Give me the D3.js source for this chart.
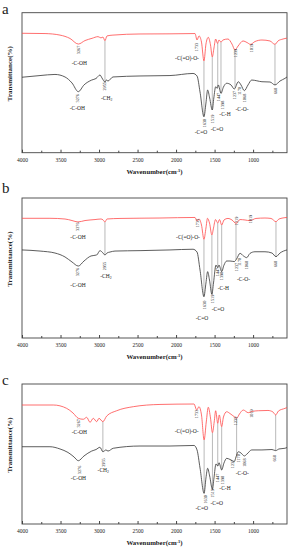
<!DOCTYPE html>
<html>
<head>
<meta charset="utf-8">
<script src="https://cdn.jsdelivr.net/npm/d3@7"></script>
<style>
body { margin: 0; background: #fff; }
svg { display: block; }
text { font-family: "Liberation Serif", "Times New Roman", serif; fill: #222; }
</style>
</head>
<body>
<svg id="chart" width="290" height="550"></svg>
<script>
(function () {
'use strict';

var panelNames = ['a', 'b', 'c'];
var xTicks = [4000, 3500, 3000, 2500, 2000, 1500, 1000];
var xMinorTicks = [3750, 3250, 2750, 2250, 1750, 1250, 750];

// [wavenumber, transmittance]
var redA = [[4000,85.3],[3701,85.1],[3507,84.0],[3377,81.6],[3269,77.6],[3182,80.1],[3091,81.7],[3013,82.9],[2975,82.0],[2949,82.6],[2923,80.0],[2897,83.4],[2819,84.0],[2468,84.8],[2079,84.9],[1754,85.1],[1728,80.5],[1702,83.4],[1670,79.0],[1638,65.5],[1612,77.6],[1582,82.4],[1553,77.0],[1530,68.4],[1508,74.8],[1486,81.2],[1462,78.1],[1443,80.5],[1417,79.0],[1391,80.5],[1326,81.2],[1274,77.6],[1235,73.4],[1195,76.2],[1131,79.8],[1079,78.7],[1034,77.4],[976,79.4],[885,80.5],[781,79.8],[716,77.4],[677,79.8],[612,81.2],[560,81.9]];
var blackA = [[4000,53.9],[3766,55.1],[3572,55.9],[3442,54.1],[3351,49.8],[3269,43.6],[3195,48.4],[3095,51.9],[3039,53.0],[2988,55.5],[2962,53.4],[2923,50.5],[2905,51.9],[2884,51.2],[2819,54.1],[2468,54.8],[2079,55.1],[1780,56.6],[1728,54.8],[1689,43.4],[1638,25.7],[1612,35.5],[1590,44.8],[1564,39.1],[1530,30.5],[1510,39.1],[1486,47.1],[1465,46.0],[1452,48.4],[1417,42.4],[1385,46.9],[1343,49.6],[1287,48.4],[1244,45.5],[1192,50.7],[1157,48.4],[1114,44.3],[1066,48.4],[1018,51.9],[885,50.7],[781,50.5],[716,48.4],[651,51.2],[586,53.1],[560,54.1]];

var redB = [[4000,85.5],[3637,85.5],[3442,85.0],[3351,83.9],[3273,82.9],[3182,83.9],[3052,84.6],[2975,85.0],[2949,84.4],[2923,82.9],[2897,85.0],[2728,85.4],[2209,85.7],[1754,86.1],[1728,83.6],[1702,85.0],[1670,80.7],[1638,70.5],[1612,78.6],[1592,85.5],[1566,82.1],[1535,73.6],[1514,78.6],[1488,84.6],[1459,82.1],[1436,84.6],[1408,80.7],[1378,84.3],[1326,85.4],[1274,84.3],[1222,81.9],[1170,84.6],[1105,84.3],[1041,83.8],[963,85.4],[846,85.7],[768,85.4],[703,83.1],[664,85.0],[560,86.1]];
var blackB = [[4000,62.9],[3766,62.1],[3572,60.7],[3442,57.9],[3351,54.3],[3269,51.4],[3195,55.0],[3104,58.6],[3030,59.3],[2988,62.4],[2955,61.1],[2923,59.3],[2897,60.7],[2858,61.4],[2793,62.1],[2468,62.4],[2079,62.9],[1780,63.4],[1728,61.4],[1689,48.6],[1638,29.5],[1612,39.3],[1590,47.4],[1566,41.4],[1535,31.2],[1514,39.3],[1482,52.1],[1459,50.2],[1443,52.1],[1408,47.4],[1378,52.1],[1343,55.0],[1300,55.0],[1244,54.6],[1214,56.5],[1170,60.5],[1125,58.6],[1083,57.4],[1041,60.4],[976,61.6],[846,61.6],[755,60.7],[703,58.1],[651,60.7],[560,62.9]];

var redC = [[4000,85.0],[3594,85.0],[3420,82.6],[3338,79.3],[3269,75.5],[3204,74.8],[3160,76.2],[3117,72.6],[3075,75.5],[3030,73.1],[3001,75.5],[2950,73.1],[2901,77.1],[2771,80.9],[2555,83.8],[2209,85.4],[1767,85.7],[1732,81.4],[1703,83.8],[1670,77.9],[1636,60.0],[1608,72.9],[1582,83.4],[1553,75.7],[1528,65.2],[1505,72.9],[1486,80.9],[1459,71.9],[1439,77.9],[1408,69.5],[1385,76.4],[1343,80.2],[1300,78.9],[1244,76.6],[1214,75.5],[1177,78.6],[1127,81.4],[1063,79.5],[1015,80.4],[933,80.9],[807,81.1],[742,80.0],[707,77.9],[671,80.7],[586,82.6],[560,83.2]];
var blackC = [[4000,55.2],[3766,55.2],[3637,55.2],[3507,53.6],[3403,51.1],[3325,47.9],[3269,45.2],[3195,48.6],[3095,52.1],[3039,53.2],[2988,54.8],[2950,51.6],[2910,52.9],[2884,52.1],[2815,54.1],[2468,55.7],[2079,55.7],[1767,56.1],[1728,52.9],[1689,40.0],[1636,21.9],[1612,32.9],[1590,39.8],[1564,34.3],[1528,24.8],[1508,32.9],[1482,42.9],[1459,41.4],[1443,43.8],[1408,38.6],[1378,43.6],[1343,46.9],[1300,46.1],[1244,44.5],[1222,47.9],[1192,51.6],[1157,50.7],[1114,48.6],[1079,50.0],[1018,52.9],[885,52.9],[755,53.2],[707,52.4],[664,53.6],[586,54.1],[560,54.6]];

// guide lines joining the two spectra (wavenumbers)
var guidesA = [2923, 1638, 1530, 1459, 1417, 1235, 716];
var guidesB = [2923, 1638, 1535, 1459, 1408, 1222, 703];
var guidesC = [2950, 1636, 1528, 1459, 1408, 1214, 707];

// [wavenumber, transmittance, text, rotated]
var labelsA = [[3273,73.4,'3267',1],[3256,64.3,'-C-OH',0],[2923,47.4,'2955',1],[2901,38.8,'-CH2',0],[3282,38.9,'3276',1],[3282,31.7,'-C-OH',0],[1729,75.5,'1733',1],[1858,68,'-C(=O)-O-',0],[1235,71.2,'1239',1],[1015,74.8,'1019',1],[1625,21.2,'1630',1],[1677,14.8,'-C=O',0],[1527,24.1,'1519',1],[1469,16.9,'-C=O',0],[1443,39.8,'1447',1],[1398,34.1,'1398',1],[1365,28,'-C-H',0],[1242,41.2,'1237',1],[1183,44.1,'1170',1],[1118,39.1,'1068',1],[1144,30.9,'-C-O-',0],[710,44.1,'668',1]];
var labelsB = [[3282,79.5,'3276',1],[3273,72.4,'-C-OH',0],[1716,82.1,'1733',1],[1845,71.9,'-C(=O)-O-',0],[1216,83.6,'1219',1],[1028,85,'1019',1],[3282,47.1,'3276',1],[2923,51.4,'2955',1],[2910,44.3,'-CH2',0],[3273,37.9,'-C-OH',0],[1634,23.6,'1630',1],[1664,14.5,'-C=O',0],[1527,27.9,'1519',1],[1456,20.5,'-C=O',0],[1462,47.1,'1447',1],[1410,44.3,'1398',1],[1385,35.4,'-C-H',0],[1216,50.7,'1237',1],[1177,54.3,'1170',1],[1092,52.1,'1068',1],[1125,42.1,'-C-O-',0],[703,52.9,'668',1]];
var labelsC = [[3269,71.9,'3267',1],[3256,65.9,'-C-OH',0],[1741,78.6,'1733',1],[1862,66.6,'-C(=O)-O-',0],[1229,73.6,'1239',1],[1015,78.9,'1019',1],[3256,38.6,'3276',1],[3267,32.6,'-C-OH',0],[2945,43.9,'2955',1],[2945,38.6,'-CH2',0],[1616,17.6,'1630',1],[1667,11.2,'-C=O',0],[1530,21.9,'1519',1],[1473,14.8,'-C=O',0],[1465,32.9,'1447',1],[1395,31.4,'1398',1],[1365,25.5,'-C-H',0],[1265,42.9,'1237',1],[1192,46.9,'1170',1],[1114,43.8,'1068',1],[1140,36.2,'-C-O-',0],[716,46.9,'668',1]];

var panels = [
    {name: panelNames[0], red: redA, black: blackA, guides: guidesA, labels: labelsA},
    {name: panelNames[1], red: redB, black: blackB, guides: guidesB, labels: labelsB},
    {name: panelNames[2], red: redC, black: blackC, guides: guidesC, labels: labelsC}
];

var LEFT = 22;
var RIGHT = 287;
var PANEL_H = 140;
var PANEL_TOPS = [12.7, 198, 384];
var LETTER_Y = [13.5, 193, 385];

var RED = '#ff4a4a';
var BLACK = '#333';
var GUIDE = '#8a8a8a';

var svg = d3.select('#chart');
var x = d3.scaleLinear().domain([4000, 560]).range([LEFT, RIGHT]);

var valueAt = function(series, wn) {
    for (var i = 0; i < series.length - 1; i++) {
        var a = series[i], b = series[i + 1];
        if (wn <= a[0] && wn >= b[0]) {
            return a[1] + (b[1] - a[1]) * (a[0] - wn) / (a[0] - b[0]);
        }
    }
    return series[series.length - 1][1];
};

var drawPanel = function(p, idx) {
    var top = PANEL_TOPS[idx];
    var bottom = top + PANEL_H;
    var y = d3.scaleLinear().domain([0, 100]).range([bottom, top]);
    var g = svg.append('g');

    g.append('text')
        .attr('x', 2)
        .attr('y', LETTER_Y[idx])
        .style('font-size', '15px')
        .text(p.name);

    g.append('rect')
        .attr('x', LEFT)
        .attr('y', top)
        .attr('width', RIGHT - LEFT)
        .attr('height', PANEL_H)
        .attr('fill', 'none')
        .attr('stroke', '#444')
        .attr('stroke-width', 0.9);

    var axis = g.append('g')
        .attr('transform', 'translate(0,' + bottom + ')')
        .call(d3.axisBottom(x).tickValues(xTicks).tickSize(-3).tickPadding(5).tickFormat(d3.format('d')));
    axis.select('.domain').remove();
    axis.selectAll('line').attr('stroke', '#444');
    axis.selectAll('text')
        .style('font-family', '"Liberation Serif", serif')
        .style('font-size', '5.5px')
        .attr('fill', '#222');

    var minor = g.append('g')
        .attr('transform', 'translate(0,' + bottom + ')')
        .call(d3.axisBottom(x).tickValues(xMinorTicks).tickSize(-2).tickFormat(''));
    minor.select('.domain').remove();
    minor.selectAll('line').attr('stroke', '#444');

    var title = g.append('text')
        .attr('x', (LEFT + RIGHT) / 2)
        .attr('y', bottom + 21)
        .attr('text-anchor', 'middle')
        .style('font-size', '6.8px')
        .style('font-weight', 'bold');
    title.append('tspan').text('Wavenumber(cm');
    title.append('tspan').attr('baseline-shift', 'super').style('font-size', '4.5px').text('-1');
    title.append('tspan').text(')');

    g.append('text')
        .attr('transform', 'translate(11.5,' + (top + 61) + ') rotate(-90)')
        .attr('text-anchor', 'middle')
        .style('font-size', '7px')
        .style('font-weight', 'bold')
        .text('Transmittance(%)');

    p.guides.forEach(function(wn) {
        g.append('line')
            .attr('x1', x(wn))
            .attr('x2', x(wn))
            .attr('y1', y(valueAt(p.red, wn)))
            .attr('y2', y(valueAt(p.black, wn)))
            .attr('stroke', GUIDE)
            .attr('stroke-width', 0.6);
    });

    var line = d3.line()
        .x(function(d) { return x(d[0]); })
        .y(function(d) { return y(d[1]); })
        .curve(d3.curveMonotoneX);

    g.append('path')
        .attr('d', line(p.black))
        .attr('fill', 'none')
        .attr('stroke', BLACK)
        .attr('stroke-width', 0.8);

    g.append('path')
        .attr('d', line(p.red))
        .attr('fill', 'none')
        .attr('stroke', RED)
        .attr('stroke-width', 0.8);

    p.labels.forEach(function(l) {
        var t = g.append('text')
            .attr('text-anchor', 'middle')
            .attr('dominant-baseline', 'central');
        if (l[3]) {
            t.attr('transform', 'translate(' + x(l[0]) + ',' + y(l[1]) + ') rotate(-90)')
                .style('font-size', '4.2px')
                .text(l[2]);
        } else {
            t.attr('x', x(l[0]))
                .attr('y', y(l[1]))
                .style('font-size', '5.5px');
            if (l[2] === '-CH2') {
                t.append('tspan').text('-CH');
                t.append('tspan').attr('baseline-shift', 'sub').style('font-size', '3.8px').text('2');
            } else {
                t.text(l[2]);
            }
        }
    });
};

panels.forEach(drawPanel);
})();
</script>
</body>
</html>
